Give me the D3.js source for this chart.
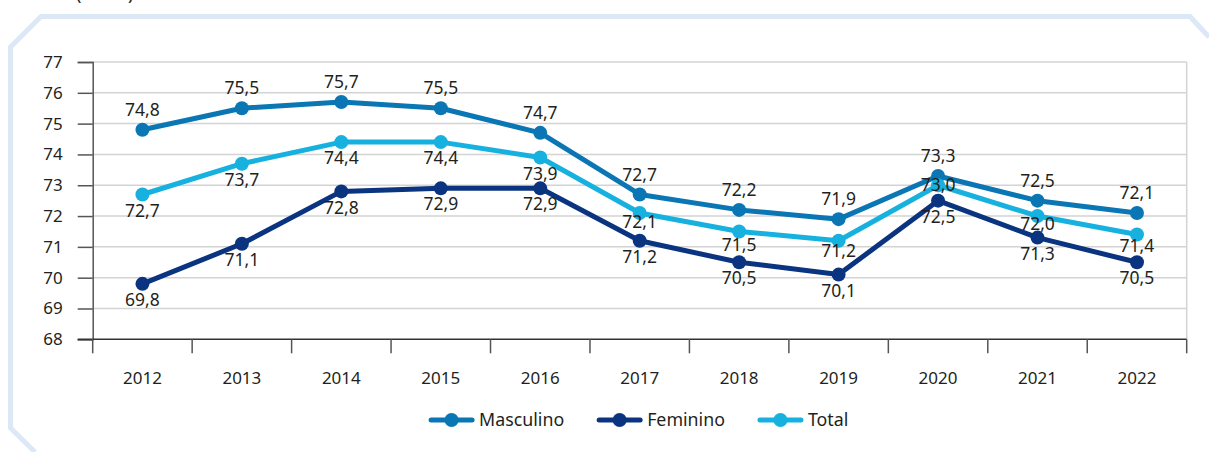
<!DOCTYPE html>
<html>
<head>
<meta charset="utf-8">
<script src="https://cdn.jsdelivr.net/npm/d3@7"></script>
<style>
	body { margin: 0; background: #fff; }
	svg { display: block; font-family: 'Noto Sans', sans-serif; }
	text { fill: #231f20; }
</style>
</head>
<body>
<svg width="1209" height="452"></svg>
<script>
const years = ['2012', '2013', '2014', '2015', '2016', '2017', '2018', '2019', '2020', '2021', '2022']
const masculino = [74.8, 75.5, 75.7, 75.5, 74.7, 72.7, 72.2, 71.9, 73.3, 72.5, 72.1]
const feminino = [69.8, 71.1, 72.8, 72.9, 72.9, 71.2, 70.5, 70.1, 72.5, 71.3, 70.5]
const total = [72.7, 73.7, 74.4, 74.4, 73.9, 72.1, 71.5, 71.2, 73.0, 72.0, 71.4]
const yTicks = [68, 69, 70, 71, 72, 73, 74, 75, 76, 77]
const seriesNames = ['Masculino', 'Feminino', 'Total']

const svg = d3.select('svg')

const plotLeft = 92.7
const plotRight = 1186.7
const plotTop = 62
const plotBottom = 339.3

const colors = ['#0a77b4', '#0b3480', '#17b1df']
// label offset above (-) or below (+) the point, per series
const labelDy = [-20, 16, 16]
// Excel shifted some Total labels to dodge others
const totalNudge = [0, 0, 0, 0, 0, -7, -3, -6, -16, -8, -5]

const x = d3.scaleBand().domain(years).range([plotLeft, plotRight]).padding(0)
const y = d3.scaleLinear().domain([68, 77]).range([plotBottom, plotTop])
const cx = d => x(d) + x.bandwidth() / 2
const fmt = v => d3.format('.1f')(v).replace('.', ',')

/* frame */
svg.append('path')
	.attr('d', `M1209,37 L1190,16.5 L41,16.5 L10.5,47 L10.5,428 L35,452`)
	.attr('fill', 'none')
	.attr('stroke', '#dce8f5')
	.attr('stroke-width', 5)

// unit note, cut off at the top edge like in the source
svg.append('text')
	.attr('x', 76)
	.attr('y', 0)
	.style('font-size', '18px')
	.text('(em %)')

/* grid */
svg.append('g')
	.selectAll('line')
	.data(yTicks.slice(1))
	.enter()
	.append('line')
	.attr('x1', plotLeft)
	.attr('x2', plotRight)
	.attr('y1', d => y(d))
	.attr('y2', d => y(d))
	.attr('stroke', '#d3d3d3')
	.attr('stroke-width', 1.5)

svg.append('line')
	.attr('x1', plotRight).attr('x2', plotRight)
	.attr('y1', plotTop).attr('y2', plotBottom)
	.attr('stroke', '#d3d3d3')
	.attr('stroke-width', 1.5)

/* y axis */
const yAxis = svg.append('g')
	.attr('transform', `translate(${plotLeft},0)`)
	.call(d3.axisLeft(y).tickValues(yTicks).tickSize(15).tickPadding(15).tickFormat(d => d))
yAxis.select('.domain').attr('stroke', '#555').attr('stroke-width', 1.5)
yAxis.selectAll('.tick line').attr('stroke', '#555').attr('stroke-width', 1.5)
yAxis.selectAll('.tick text')
	.style('font-size', '17px')
	.style('font-family', "'Noto Sans', sans-serif")
	.attr('fill', '#231f20')

/* x axis */
const xg = svg.append('g')
xg.append('line')
	.attr('x1', plotLeft - 15).attr('x2', plotRight)
	.attr('y1', plotBottom).attr('y2', plotBottom)
	.attr('stroke', '#333')
	.attr('stroke-width', 1.5)
xg.selectAll('.xtick')
	.data(years.map(d => x(d)).concat([plotRight]))
	.enter()
	.append('line')
	.attr('x1', d => d).attr('x2', d => d)
	.attr('y1', plotBottom).attr('y2', plotBottom + 14)
	.attr('stroke', '#555')
	.attr('stroke-width', 1.5)
xg.selectAll('text')
	.data(years)
	.enter()
	.append('text')
	.attr('x', d => cx(d))
	.attr('y', 378)
	.attr('dy', '0.35em')
	.attr('text-anchor', 'middle')
	.style('font-size', '17px')
	.text(d => d)

/* lines */
const allSeries = [masculino, feminino, total]
const line = d3.line()
	.x((d, i) => cx(years[i]))
	.y(d => y(d))

allSeries.forEach((values, s) => {
	const g = svg.append('g')
	g.append('path')
		.datum(values)
		.attr('d', line)
		.attr('fill', 'none')
		.attr('stroke', colors[s])
		.attr('stroke-width', 5)
		.attr('stroke-linejoin', 'round')
	g.selectAll('circle')
		.data(values)
		.enter()
		.append('circle')
		.attr('cx', (d, i) => cx(years[i]))
		.attr('cy', d => y(d))
		.attr('r', 7)
		.attr('fill', colors[s])
})

allSeries.forEach((values, s) => {
	svg.append('g')
		.selectAll('text')
		.data(values)
		.enter()
		.append('text')
		.attr('x', (d, i) => cx(years[i]))
		.attr('y', (d, i) => y(d) + labelDy[s] + (s === 2 ? totalNudge[i] : 0))
		.attr('dy', '0.35em')
		.attr('text-anchor', 'middle')
		.style('font-size', '17.5px')
		.text(d => fmt(d))
})

/* legend */
const legend = svg.append('g')
let lx = 0
seriesNames.forEach((name, i) => {
	const item = legend.append('g').attr('transform', `translate(${lx},420)`)
	item.append('line')
		.attr('x1', 0).attr('x2', 41)
		.attr('stroke', colors[i])
		.attr('stroke-width', 5)
		.attr('stroke-linecap', 'round')
	item.append('circle')
		.attr('cx', 20.5)
		.attr('r', 7)
		.attr('fill', colors[i])
	const t = item.append('text')
		.attr('x', 48)
		.attr('dy', '0.35em')
		.style('font-size', '17.8px')
		.text(name)
	lx += 48 + t.node().getComputedTextLength() + 35
})
const legendWidth = lx - 35
legend.attr('transform', `translate(${(plotLeft + plotRight) / 2 - legendWidth / 2},0)`)
</script>
</body>
</html>
